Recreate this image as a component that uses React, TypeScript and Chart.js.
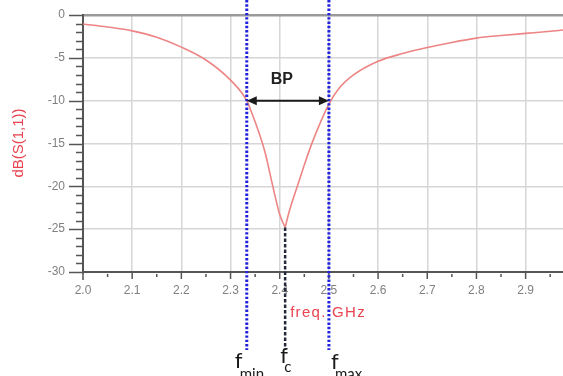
import React, { useEffect, useRef } from 'react';
import { Chart, registerables } from 'chart.js';

Chart.register(...registerables);

// Frequency (GHz) and return loss dB(S(1,1))
const freqGHz = [
  2.0, 2.05, 2.1, 2.15, 2.2, 2.25, 2.3, 2.333, 2.345, 2.357, 2.37, 2.386, 2.4, 2.411,
  2.42, 2.437, 2.45, 2.466, 2.483, 2.5, 2.52, 2.55, 2.6, 2.65, 2.7, 2.75, 2.8, 2.85,
  2.9, 2.95, 2.976,
];
const s11dB = [
  -1.05, -1.4, -1.85, -2.6, -3.75, -5.25, -7.6, -10.0, -11.7, -13.6, -16.0, -20.0, -23.3, -24.8,
  -22.8, -19.8, -17.5, -14.9, -12.5, -10.4, -8.6, -7.0, -5.4, -4.5, -3.8, -3.2, -2.7, -2.4,
  -2.15, -1.9, -1.75,
];
const xTicks = [2.0, 2.1, 2.2, 2.3, 2.4, 2.5, 2.6, 2.7, 2.8, 2.9];
const yTicks = [0, -5, -10, -15, -20, -25, -30];
const xRange = [2.0, 2.976];
const yRange = [-30, 0];
const markerFreqs = [2.333, 2.411, 2.5];
const markerSubs = ['min', 'c', 'max'];
const bandLevel = -10;
const yTitle = 'dB(S(1,1))';
const xTitle = 'freq. GHz';
const bandLabel = 'BP';

// label placement styles (relative to the marker line)
const fLabelStyle = [
  { dx: -12, base: 368, subDx: 5, subBase: 379 },
  { dx: -5, base: 363, subDx: 4, subBase: 372 },
  { dx: 2, base: 369, subDx: 4, subBase: 379 },
];

const overlay = {
  id: 'overlay',
  afterDraw(chart: any) {
    const ctx = chart.ctx;
    const xs = chart.scales.x;
    const ys = chart.scales.y;
    const area = chart.chartArea;
    ctx.save();
    // minor / major ticks
    ctx.strokeStyle = '#555';
    ctx.lineWidth = 1.5;
    ctx.beginPath();
    for (let v = yRange[0]; v <= yRange[1]; v++) {
      const py = Math.round(ys.getPixelForValue(v)) + 0.5;
      const len = v % 5 === 0 ? 14 : 7;
      ctx.moveTo(area.left - len, py);
      ctx.lineTo(area.left, py);
    }
    for (let i = 0; i < xTicks.length; i++) {
      const px = xs.getPixelForValue(xTicks[i]);
      ctx.moveTo(px, area.bottom);
      ctx.lineTo(px, area.bottom + 7);
      const pm = xs.getPixelForValue(xTicks[i] + 0.05);
      if (pm < area.right) {
        ctx.moveTo(pm, area.bottom + 2);
        ctx.lineTo(pm, area.bottom + 5);
      }
    }
    ctx.moveTo(area.left, area.bottom);
    ctx.lineTo(area.left, area.bottom + 8);
    ctx.stroke();

    const x0 = xs.getPixelForValue(markerFreqs[0]);
    const xc = xs.getPixelForValue(markerFreqs[1]);
    const x1 = xs.getPixelForValue(markerFreqs[2]);
    const yb = ys.getPixelForValue(bandLevel);
    const ym = ys.getPixelForValue(Math.min(...s11dB));

    // fc dashed line
    ctx.strokeStyle = '#23283a';
    ctx.lineWidth = 2.5;
    ctx.setLineDash([3.5, 2]);
    ctx.beginPath();
    ctx.moveTo(xc, ym);
    ctx.lineTo(xc, 350);
    ctx.stroke();

    // blue dotted lines
    ctx.strokeStyle = '#2222dd';
    ctx.lineWidth = 3;
    ctx.setLineDash([2.4, 1.9]);
    ctx.beginPath();
    ctx.moveTo(x0, 0);
    ctx.lineTo(x0, 350);
    ctx.moveTo(x1, 0);
    ctx.lineTo(x1, 350);
    ctx.stroke();
    ctx.setLineDash([]);

    // arrow
    ctx.strokeStyle = '#1a1a1a';
    ctx.fillStyle = '#1a1a1a';
    ctx.lineWidth = 2;
    ctx.beginPath();
    ctx.moveTo(x0 + 4, yb);
    ctx.lineTo(x1 - 4, yb);
    ctx.stroke();
    ctx.beginPath();
    ctx.moveTo(x0, yb);
    ctx.lineTo(x0 + 10, yb - 4.5);
    ctx.lineTo(x0 + 10, yb + 4.5);
    ctx.closePath();
    ctx.moveTo(x1, yb);
    ctx.lineTo(x1 - 10, yb - 4.5);
    ctx.lineTo(x1 - 10, yb + 4.5);
    ctx.closePath();
    ctx.fill();

    // BP
    ctx.font = 'bold 16px "Liberation Sans", Arial, sans-serif';
    ctx.textAlign = 'center';
    ctx.textBaseline = 'middle';
    ctx.fillStyle = '#222';
    ctx.fillText(bandLabel, (x0 + x1) / 2 - 6, yb - 21);

    // freq GHz
    ctx.font = '15px "Liberation Sans", Arial, sans-serif';
    (ctx as any).letterSpacing = '1.3px';
    ctx.textAlign = 'left';
    ctx.fillStyle = '#e8434f';
    ctx.fillText(xTitle, xc + 5, 313);
    (ctx as any).letterSpacing = '0px';

    // f labels
    ctx.fillStyle = '#1a1a1a';
    for (let i = 0; i < markerFreqs.length; i++) {
      const px = xs.getPixelForValue(markerFreqs[i]);
      const st = fLabelStyle[i];
      ctx.textAlign = 'left';
      ctx.textBaseline = 'alphabetic';
      ctx.font = '22px Lato, "Open Sans", sans-serif';
      ctx.fillText('f', px + st.dx, st.base);
      ctx.font = '15px Lato, "Open Sans", sans-serif';
      ctx.fillText(markerSubs[i], px + st.dx + st.subDx, st.subBase);
    }

    // y title
    ctx.save();
    ctx.translate(19, 143);
    ctx.rotate(-Math.PI / 2);
    ctx.font = '15px "Liberation Sans", Arial, sans-serif';
    ctx.textAlign = 'center';
    ctx.textBaseline = 'middle';
    ctx.fillStyle = '#e8434f';
    ctx.fillText(yTitle, 0, 0);
    ctx.restore();

    ctx.restore();
  },
};

export default function App() {
  const ref = useRef<HTMLCanvasElement>(null);
  useEffect(() => {
    if (!ref.current) return;
    const pts = freqGHz.map((f, i) => ({ x: f, y: s11dB[i] }));
    const iMin = s11dB.indexOf(Math.min(...s11dB));
    const lineStyle = {
      borderColor: '#ee8585',
      borderWidth: 1.6,
      pointRadius: 0,
      cubicInterpolationMode: 'monotone' as const,
      fill: false,
    };
    const chart = new Chart(ref.current, {
      type: 'line',
      data: {
        datasets: [
          { data: pts.slice(0, iMin + 1), ...lineStyle },
          { data: pts.slice(iMin), ...lineStyle },
        ],
      },
      options: {
        animation: false,
        responsive: false,
        devicePixelRatio: 1,
        layout: { padding: { top: 15, left: 0, right: 0, bottom: 0 } },
        plugins: { legend: { display: false }, tooltip: { enabled: false } },
        scales: {
          x: {
            type: 'linear',
            min: xRange[0],
            max: xRange[1],
            afterBuildTicks: (scale: any) => {
              scale.ticks = xTicks.map((v) => ({ value: v }));
            },
            afterFit: (scale: any) => {
              scale.height = 104;
              scale.paddingLeft = 0;
              scale.paddingRight = 0;
            },
            ticks: {
              color: '#808080',
              font: { size: 12, family: '"Liberation Sans", Arial, sans-serif' },
              padding: 11,
              maxRotation: 0,
              autoSkip: false,
              callback: (v: any) => Number(v).toFixed(1),
            },
            grid: { color: '#d6d6d6', lineWidth: 1.5, drawTicks: false },
            border: { display: true, color: '#555', width: 2 },
          },
          y: {
            type: 'linear',
            min: yRange[0],
            max: yRange[1],
            afterBuildTicks: (scale: any) => {
              scale.ticks = yTicks.map((v) => ({ value: v }));
            },
            afterFit: (scale: any) => {
              scale.width = 83;
              scale.paddingTop = 0;
              scale.paddingBottom = 0;
            },
            ticks: {
              color: '#808080',
              font: { size: 12, family: '"Liberation Sans", Arial, sans-serif' },
              padding: 18,
              autoSkip: false,
            },
            grid: {
              color: (c: any) => (c.tick && c.tick.value === 0 ? '#9a9a9a' : '#d6d6d6'),
              lineWidth: (c: any) => (c.tick && c.tick.value === 0 ? 2.5 : 1.5),
              drawTicks: false,
            },
            border: { display: true, color: '#555', width: 2 },
          },
        },
      },
      plugins: [overlay],
    });
    return () => chart.destroy();
  }, []);
  return (
    <div style={{ position: 'absolute', left: 0, top: 0, width: 563, height: 376, background: '#fff' }}>
      <canvas ref={ref} width={563} height={376} style={{ display: 'block' }} />
    </div>
  );
}
